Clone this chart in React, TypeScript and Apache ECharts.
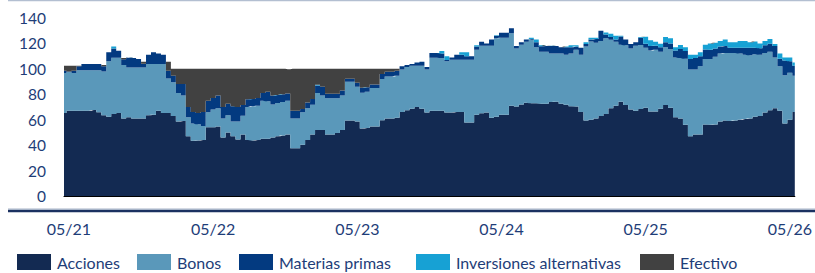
import React, { useEffect, useRef } from "react";
import * as echarts from "echarts";

const seriesNames = ["Acciones", "Bonos", "Materias primas", "Inversiones alternativas", "Efectivo"];
const seriesColors = ["#132a52", "#5a98ba", "#033a80", "#17a1d4", "#414141"];

const acciones = [
  65.3, 67.1, 67.1, 67.1, 67.1, 67.1, 67.6, 65.8, 63.5, 62.4, 64.5, 65.3, 60.9, 62, 60.9, 60.9, 60.9, 63.5, 64, 67.1, 65.3, 65.3, 63, 58.6,
  59, 47, 43.5, 43.6, 44, 54, 54, 54.6, 46, 50, 47, 44.5, 48.3, 44, 43.6, 44, 45, 45, 46, 47, 47.5, 48.3, 37.6, 37.6,
  40.4, 44, 48.3, 52, 52, 48.3, 48.3, 49.5, 52, 59.3, 59.3, 58.5, 53, 53.5, 54.6, 54.6, 59.5, 60.9, 60.9, 61.5, 66, 67.5, 68.7, 70,
  68.7, 65.6, 67.1, 67.1, 67.1, 65.6, 65.6, 66, 66, 57.8, 57.8, 64, 65, 65.6, 61.5, 62.4, 64, 64, 71, 70.3, 72, 73.4, 73, 73,
  72.5, 72.5, 74, 74.2, 72.5, 71.8, 70.5, 70.3, 66, 59.3, 60, 60.9, 63, 64.5, 69, 71, 74.2, 71.5, 68, 67.1, 68.5, 69.4, 66.5, 66.5,
  68.7, 71.5, 69.5, 62, 60.9, 56, 47, 48.3, 48.3, 56.2, 56, 56.2, 58.5, 59.3, 59, 59.3, 60, 60.5, 60.9, 62.4, 63, 65.6, 67.5, 69, 67.1, 57, 60, 66,
];

const bonos = [
  31.4, 30.4, 29.6, 31.9, 31.9, 31.9, 31.4, 33.2, 34.5, 43.6, 44.3, 43.5, 42.1, 39, 40.1, 40.1, 40.1, 40.3, 39.8, 36.7, 38.5, 27.2, 26.4, 22.4,
  20, 15, 13.5, 12.9, 11, 11.8, 14, 14.4, 15, 13.5, 11.5, 14, 14.9, 26, 26.9, 27, 30, 29.5, 26, 26.2, 26.5, 26.7, 23.4, 23.4,
  25.4, 25, 23.5, 29, 27, 28.5, 28.5, 27.3, 27, 30.6, 30.6, 27.5, 28.3, 28.5, 30.4, 30.4, 32.5, 33.1, 33.1, 33, 33.5, 34, 33.8, 32.5,
  33.8, 33.9, 41.7, 41.7, 41.4, 40.4, 41.6, 41.2, 41.2, 49.4, 49.4, 51, 53.2, 52.6, 56.7, 61.6, 60.5, 60.5, 57, 45.7, 47, 47.9, 49.9, 44,
  41, 41, 38, 37.8, 39.5, 39.2, 41.5, 44.7, 45, 58.2, 61.5, 59.6, 59, 59.5, 53.9, 50.3, 44.8, 47, 48, 51.1, 50.3, 47.2, 48, 48.5,
  44.8, 45.4, 46, 47, 47.6, 52, 52.5, 51.2, 53.7, 51.5, 51.7, 53.3, 53.5, 53.1, 53.4, 53.1, 52, 50.5, 49.9, 49.1, 48, 46.9, 46, 40, 34.9, 38, 37, 28.6,
];

const materiasPrimas = [
  1.9, 0.5, 1.9, 3, 4.8, 4.8, 4.8, 4.8, 4, 7, 7.2, 5.5, 4.5, 7.8, 7.5, 6.8, 3, 7.2, 9.2, 8.2, 7.2, 6.1, 5.1, 7,
  9, 8, 9, 8.8, 11, 9.2, 9, 10, 9, 9, 12, 11.5, 8.4, 6, 5.8, 6, 6, 7.5, 7, 6.3, 6, 5.7, 6.1, 6.1,
  2.7, 4.5, 4.5, 6, 7, 3.7, 3.7, 3.7, 4, 2.4, 2.4, 3, 3.9, 3.5, 2.6, 2.6, 4, 3.8, 3.8, 4, 2.5, 1.5, 1.3, 2.5,
  3.1, 2, 3.6, 3.6, 3.5, 1, 1.8, 3.8, 3.8, 2.8, 2.8, 2.5, 3.1, 1.8, 4.8, 2, 3.9, 3.9, 4, 2, 2, 1.7, 0.6, 4,
  4.2, 4.5, 6, 6, 5, 6, 5, 2.5, 5.6, 2, 1.5, 3, 8, 3, 2.1, 1.7, 6.5, 4.5, 3.5, 2.8, 5.7, 3.2, 3.5, 3.2,
  3.5, 4.1, 4.5, 5.5, 7.1, 6, 8.2, 9, 8, 7.6, 7.3, 6.5, 5.5, 5.6, 4.2, 4.2, 4.6, 5.6, 5.8, 5.1, 5.3, 6, 6.3, 9, 6, 11.5, 9, 7.9,
];

const inversionesAlternativas = [
  0, 0, 0, 0, 0, 0, 0, 0, 0, 0, 1.5, 0, 0, 0, 0, 0, 0, 0, 0, 0, 0, 0, 0, 0,
  0, 0, 0, 0, 0, 0, 0, 0, 0, 0, 0, 0, 0, 0, 0, 0, 0, 0, 0, 0, 0, 0, 0, 0,
  0, 0, 0, 0.5, 0, 0, 0, 0, 0, 0, 0, 0, 0, 0, 0, 0, 0, 0, 0, 0, 0, 0, 0, 0,
  0, 0, 0, 0, 2, 3, 0, 0, 2, 3, 0, 1, 0, 0, 0, 0.5, 0, 0, 0, 0, 0, 0, 1, 2,
  0.8, 0, 0.2, 0, 0, 0.5, 1.5, 1, 0, 1.5, 1.5, 1, 0, 1.5, 2.7, 3, 0.5, 0, 0, 0, 0.5, 5.5, 4.5, 3.1,
  2.8, 4, 4, 2.5, 3.1, 3, 3.3, 2.5, 3, 3.7, 5, 4.5, 4.5, 5, 4.4, 4.4, 5.4, 5.4, 4.4, 4.9, 3.7, 3.5, 3.7, 1.6, 4, 2.5, 3, 2.5,
];

const efectivo = [
  3.9, 4.5, 3.9, 0.5, 0, 0, 0, 0, 1, 0, 0, 0, 1, 0, 0, 0, 1.6, 0, 0, 0, 0, 7, 5.5, 12,
  12, 30, 34, 34.7, 34, 25, 23, 21, 30, 27.5, 29.5, 30, 28.4, 24, 23.7, 23, 19, 18, 21, 20.5, 20, 19, 32.9, 32.9,
  31.5, 26.5, 23.7, 12.5, 14, 19.5, 19.5, 19.5, 17, 7.7, 7.7, 11, 14.8, 14.5, 12.4, 12.4, 4, 2.2, 2.2, 1.5, 0, 0, 0, 0,
  0, 0, 0, 0, 0, 0, 0, 0, 0, 0, 0, 0, 0, 0, 0, 0, 0, 0, 0, 0, 0, 0, 0, 0,
  0, 0, 0, 0, 0, 0, 0, 0, 0, 0, 0, 0, 0, 0, 0, 0, 0, 0, 0, 0, 0, 0, 0, 0,
  0, 0, 0, 0, 0, 0, 0, 0, 0, 0, 0, 0, 0, 0, 0, 0, 0, 0, 0, 0, 0, 0, 0, 0, 0, 0, 0, 0,
];

const yTicks = { min: 0, max: 140, interval: 20 };

// Dates of each observation (roughly every 12.6 days from late April 2021)
const START_MS = Date.UTC(2021, 3, 28);
const STEP_MS = (365.25 / 29) * 86400000;
const categories = acciones.map((_, i) => new Date(START_MS + i * STEP_MS).toISOString().slice(0, 10));

const TEXT_COLOR = "#1e3d78";
const FONT = "Lato, 'Open Sans', sans-serif";
const LEGEND_LEFT = [17, 137, 239, 416, 640];

function isMayStart(i: number): boolean {
  const m = categories[i].slice(5, 7);
  const prev = i > 0 ? categories[i - 1].slice(5, 7) : "04";
  return m === "05" && prev !== "05";
}

export default function App() {
  const ref = useRef<HTMLDivElement>(null);

  useEffect(() => {
    if (!ref.current) return;
    const chart = echarts.init(ref.current, null, { renderer: "svg" });
    const dataSets = [acciones, bonos, materiasPrimas, inversionesAlternativas, efectivo];
    chart.setOption({
      animation: false,
      backgroundColor: "#ffffff",
      textStyle: { fontFamily: FONT },
      grid: { left: 64, right: 11, top: 18, bottom: 77, containLabel: false },
      legend: seriesNames.map((name, k) => ({
        left: LEGEND_LEFT[k],
        top: 254,
        padding: 0,
        itemWidth: 34,
        itemHeight: 16,
        icon: "rect",
        selectedMode: false,
        textStyle: { color: TEXT_COLOR, fontSize: 16, fontFamily: FONT, padding: [0, 0, 0, 1] },
        data: [name],
      })),
      xAxis: {
        type: "category",
        data: categories,
        boundaryGap: false,
        axisLine: { show: true, lineStyle: { color: "#000000", width: 1.2 } },
        axisTick: { show: false },
        splitLine: { show: false },
        axisLabel: {
          interval: (index: number) => isMayStart(index),
          formatter: (v: string) => `${v.slice(5, 7)}/${v.slice(2, 4)}`,
          color: TEXT_COLOR,
          fontSize: 16,
          fontFamily: FONT,
          margin: 24,
        },
      },
      yAxis: {
        type: "value",
        min: yTicks.min,
        max: yTicks.max,
        interval: yTicks.interval,
        axisLine: { show: false },
        axisTick: { show: false },
        splitLine: { show: false },
        axisLabel: { color: TEXT_COLOR, fontSize: 15.5, fontFamily: FONT, margin: 18 },
      },
      series: seriesNames.map((name, k) => ({
        name,
        type: "line",
        stack: "total",
        step: "middle",
        color: seriesColors[k],
        showSymbol: false,
        symbol: "none",
        silent: true,
        lineStyle: { width: 0, color: seriesColors[k] },
        itemStyle: { color: seriesColors[k] },
        areaStyle: { color: seriesColors[k], opacity: 1 },
        emphasis: { disabled: true },
        z: 2,
        data: dataSets[k],
      })),
      graphic: [
        { type: "rect", left: 8, top: 0, shape: { width: 807, height: 1.2 }, style: { fill: "#b3bfd1" }, silent: true },
        { type: "rect", left: 8, top: 208.6, shape: { width: 807, height: 1.4 }, style: { fill: "#a7b4c8" }, silent: true },
        { type: "rect", left: 8, top: 210, shape: { width: 807, height: 2.3 }, style: { fill: "#1b3161" }, silent: true },
      ],
    });
    return () => chart.dispose();
  }, []);

  return (
    <div
      ref={ref}
      style={{ position: "fixed", left: 0, top: 0, width: 815, height: 273, background: "#fff" }}
    />
  );
}
